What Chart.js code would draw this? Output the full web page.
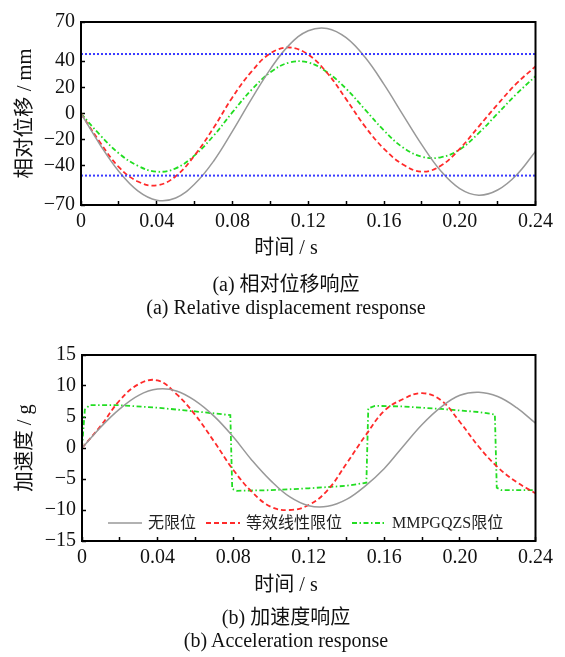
<!DOCTYPE html>
<html>
<head>
<meta charset="utf-8">
<script src="https://cdn.jsdelivr.net/npm/chart.js@4.4.1/dist/chart.umd.min.js"></script>
<style>
  body { margin: 0; background: #fff; width: 565px; height: 657px; position: relative; overflow: hidden;
         font-family: 'Liberation Serif', 'Noto Sans CJK SC', serif; color: #111; }
  canvas { position: absolute; left: 0; }
  .txt { position: absolute; left: 0; width: 572px; text-align: center; font-size: 20px; line-height: 24px; white-space: nowrap; }
</style>
</head>
<body>
<canvas id="dispChart" width="565" height="241" style="top:0"></canvas>
<div class="txt" style="top:235px">时间 / s</div>
<div class="txt" style="top:272px">(a) 相对位移响应</div>
<div class="txt" style="top:295px">(a) Relative displacement response</div>

<canvas id="accChart" width="565" height="247" style="top:330px"></canvas>
<div class="txt" style="top:572px">时间 / s</div>
<div class="txt" style="top:605px">(b) 加速度响应</div>
<div class="txt" style="top:628px">(b) Acceleration response</div>

<script>
// 时间轴 (s)
const timeGrid = [0, 0.01, 0.02, 0.03, 0.04, 0.05, 0.06, 0.07, 0.08, 0.09, 0.10, 0.11, 0.12,
                  0.13, 0.14, 0.15, 0.16, 0.17, 0.18, 0.19, 0.20, 0.21, 0.22, 0.23, 0.24];

// (a) 相对位移 (mm)
const dispNone   = [0, -23.7, -44.3, -59.2, -66.3, -64.6, -54, -36.5, -13.5, 11, 34, 52.5, 63.3,
                    65.1, 58, 43, 22.3, -1, -24, -44, -57.5, -62.5, -58.5, -47, -29];
const dispLinear = [0, -22, -41, -52, -55, -48, -32, -11, 12.5, 32, 46, 50.5, 45,
                    31, 11, -10, -27, -39, -44.5, -40, -27, -10, 7, 23, 36];
const dispMmp    = [0, -16.4, -30.5, -40, -44.5, -42, -32, -17, 1, 18, 31.5, 39, 39,
                    31.5, 19, 3, -13, -26, -33, -33.5, -27.5, -15, 0, 15, 28.5];
const limitUpper = 45.5;
const limitLower = -47.5;
const dispTicks  = [-70, -40, -20, 0, 20, 40, 70];

// (b) 加速度 (g)
const accNone   = [0, 3.4, 6.3, 8.5, 9.5, 9.2, 7.6, 5.1, 1.8, -2.0, -5.3, -7.9, -9.3,
                   -9.4, -8.3, -6.1, -3.3, 0.3, 3.8, 6.6, 8.5, 9.0, 8.3, 6.5, 4.0];
const accLinear = [0, 3.6, 7.7, 10.3, 10.9, 8.7, 5.3, 1.0, -3.5, -7.1, -9.5, -10, -9.2,
                   -6.8, -2.5, 2.0, 6.0, 7.9, 8.85, 7.7, 4.2, 0.2, -3.1, -5.5, -7.3];
const accMmpTime = [0, 0.0015, 0.004, 0.02, 0.04, 0.06, 0.0785, 0.0795, 0.082, 0.10, 0.12, 0.14,
                    0.1505, 0.1515, 0.155, 0.17, 0.19, 0.21, 0.2185, 0.2195, 0.222, 0.24];
const accMmp     = [0, 6.2, 6.9, 6.9, 6.5, 5.9, 5.3, -6.6, -6.9, -6.8, -6.5, -6.1,
                    -5.6, 6.4, 6.8, 6.7, 6.3, 5.8, 5.4, -6.4, -6.8, -6.8];

const seriesNames = ['无限位', '等效线性限位', 'MMPGQZS限位'];

const FONT = "'Liberation Serif', 'Noto Sans CJK SC', serif";
Chart.defaults.font.family = FONT;
Chart.defaults.color = '#111';

const toXY = (xs, ys) => xs.map((x, i) => ({ x: x, y: ys[i] }));
const minus = v => (v < 0 ? '\u2212' + Math.abs(v) : String(v));

// 边框
const frame = {
  id: 'frame',
  afterDraw(chart) {
    const { ctx, chartArea: a } = chart;
    ctx.save();
    ctx.strokeStyle = '#000';
    ctx.lineWidth = 2;
    ctx.strokeRect(a.left, a.top, a.right - a.left, a.bottom - a.top);
    ctx.restore();
  }
};

// 图例画在绘图区内部
const legendInside = {
  id: 'legendInside',
  afterDatasetsDraw(chart, args, opts) {
    if (!opts.show) return;
    const { ctx, chartArea } = chart;
    const y = chartArea.bottom - 18;
    let x = chartArea.left + 26;
    ctx.save();
    ctx.font = '16px ' + FONT;
    ctx.textBaseline = 'middle';
    chart.data.datasets.forEach(ds => {
      if (!ds.label) return;
      ctx.strokeStyle = ds.borderColor;
      ctx.lineWidth = ds.borderWidth;
      ctx.setLineDash(ds.borderDash || []);
      ctx.beginPath();
      ctx.moveTo(x, y);
      ctx.lineTo(x + 34, y);
      ctx.stroke();
      ctx.setLineDash([]);
      ctx.fillStyle = '#222';
      ctx.fillText(ds.label, x + 40, y + 1);
      x += 40 + ctx.measureText(ds.label).width + 10;
    });
    ctx.restore();
  }
};

function xScale() {
  return {
    type: 'linear', min: 0, max: 0.24,
    afterFit: s => { s.height = 36; },
    border: { display: false },
    grid: { drawOnChartArea: false, drawTicks: true, tickLength: -4, tickColor: '#000', tickWidth: 1.5 },
    ticks: {
      stepSize: 0.02, padding: 8.5, maxRotation: 0, autoSkip: false,
      font: { size: 20 }, color: '#111',
      callback: v => {
        const k = Math.round(v * 100);
        if (k % 4 !== 0) return '';
        return k === 0 ? '0' : v.toFixed(2);
      }
    }
  };
}

function yScale(width, title, min, max, extra) {
  return Object.assign({
    type: 'linear', min: min, max: max,
    afterFit: s => { s.width = width; },
    border: { display: false },
    grid: { drawOnChartArea: false, drawTicks: true, tickLength: -4, tickColor: '#000', tickWidth: 1.5 },
    title: { display: true, text: title, font: { size: 20.5 }, color: '#111', padding: { top: 13, bottom: 0 } },
    ticks: { padding: 10, font: { size: 20 }, color: '#111', callback: v => minus(v) }
  }, extra);
}

const grayStyle  = { borderColor: '#999999', borderWidth: 1.5, borderDash: [] };
const redStyle   = { borderColor: '#ff2a2a', borderWidth: 1.8, borderDash: [5, 3] };
const greenStyle = { borderColor: '#22dd22', borderWidth: 1.8, borderDash: [5, 2.5, 1.5, 2.5] };
const blueStyle  = { borderColor: '#3a3aff', borderWidth: 2, borderDash: [2, 2] };

function line(label, data, style, tension) {
  return Object.assign({ label: label, data: data, pointRadius: 0, fill: false, tension: tension }, style);
}

new Chart(document.getElementById('dispChart'), {
  type: 'line',
  data: {
    datasets: [
      line('', toXY([0, 0.24], [limitUpper, limitUpper]), blueStyle, 0),
      line('', toXY([0, 0.24], [limitLower, limitLower]), blueStyle, 0),
      line(seriesNames[0], toXY(timeGrid, dispNone), grayStyle, 0.4),
      line(seriesNames[1], toXY(timeGrid, dispLinear), redStyle, 0.4),
      line(seriesNames[2], toXY(timeGrid, dispMmp), greenStyle, 0.4)
    ]
  },
  options: {
    responsive: false, animation: false, devicePixelRatio: 1,
    layout: { padding: { top: 18, right: 29.5, left: 0, bottom: 0 } },
    plugins: { legend: { display: false }, tooltip: { enabled: false }, legendInside: { show: false } },
    scales: {
      x: xScale(),
      y: yScale(81, '相对位移 / mm', -70, 70, {
        afterBuildTicks: s => { s.ticks = dispTicks.map(v => ({ value: v })); }
      })
    }
  },
  plugins: [frame, legendInside]
});

new Chart(document.getElementById('accChart'), {
  type: 'line',
  data: {
    datasets: [
      line(seriesNames[0], toXY(timeGrid, accNone), grayStyle, 0.4),
      line(seriesNames[1], toXY(timeGrid, accLinear), redStyle, 0.4),
      line(seriesNames[2], toXY(accMmpTime, accMmp), greenStyle, 0)
    ]
  },
  options: {
    responsive: false, animation: false, devicePixelRatio: 1,
    layout: { padding: { top: 25, right: 29.5, left: 0, bottom: 0 } },
    plugins: { legend: { display: false }, tooltip: { enabled: false }, legendInside: { show: true } },
    scales: {
      x: xScale(),
      y: yScale(82, '加速度 / g', -15, 15, { ticks: { stepSize: 5, padding: 10, font: { size: 20 }, color: '#111', callback: v => minus(v) } })
    }
  },
  plugins: [frame, legendInside]
});
</script>
</body>
</html>
